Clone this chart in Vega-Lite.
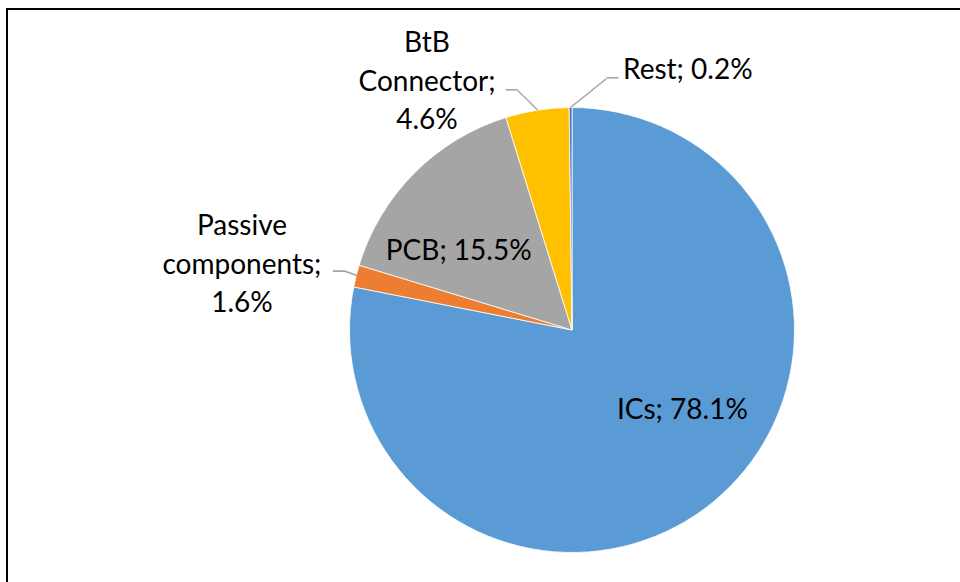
{
  "$schema": "https://vega.github.io/schema/vega-lite/v6.json",
  "width": 1130,
  "height": 642,
  "autosize": {"type": "none"},
  "padding": {"left": 7, "top": 9, "right": 0, "bottom": 0},
  "background": "#ffffff",
  "config": {"view": {"stroke": null}},
  "data": {
    "values": [
      {"category": "ICs", "share": 78.1, "rank": 1, "label": "ICs; 78.1%"},
      {"category": "Passive components", "share": 1.6, "rank": 2, "label": "Passive components; 1.6%"},
      {"category": "PCB", "share": 15.5, "rank": 3, "label": "PCB; 15.5%"},
      {"category": "BtB Connector", "share": 4.6, "rank": 4, "label": "BtB Connector; 4.6%"},
      {"category": "Rest", "share": 0.2, "rank": 5, "label": "Rest; 0.2%"}
    ]
  },
  "layer": [
    {
      "mark": {"type": "rect", "fill": "transparent", "stroke": "#000000", "strokeWidth": 2},
      "encoding": {}
    },
    {
      "encoding": {
        "theta": {"field": "share", "type": "quantitative", "stack": true},
        "order": {"field": "rank", "type": "quantitative"},
        "detail": {"field": "category", "type": "nominal"}
      },
      "layer": [
        {
          "mark": {"type": "arc", "outerRadius": 222.5, "stroke": "#ffffff", "strokeWidth": 0.8},
          "encoding": {
            "color": {
              "field": "category",
              "type": "nominal",
              "scale": {
                "domain": ["ICs", "Passive components", "PCB", "BtB Connector", "Rest"],
                "range": ["#5B9BD5", "#ED7D31", "#A5A5A5", "#FFC000", "#4472C4"]
              },
              "legend": null
            }
          }
        },
        {
          "mark": {"type": "text", "radius": 136, "dx": 24, "dy": -24, "font": "Lato", "fontSize": 28, "color": "#000000", "align": "center", "baseline": "middle"},
          "encoding": {"text": {"condition": {"test": "datum.category === 'ICs'", "field": "label"}, "value": ""}}
        },
        {
          "mark": {"type": "text", "radius": 140, "dx": -14, "dy": 21, "font": "Lato", "fontSize": 28, "color": "#000000", "align": "center", "baseline": "middle"},
          "encoding": {"text": {"condition": {"test": "datum.category === 'PCB'", "field": "label"}, "value": ""}}
        },
        {
          "mark": {"type": "text", "radius": 222.5, "dx": -114.2, "dy": -63, "font": "Lato", "fontSize": 28, "color": "#000000", "align": "center", "baseline": "top", "lineBreak": " ", "lineHeight": 38.5},
          "encoding": {"text": {"condition": {"test": "datum.category === 'Passive components'", "field": "label"}, "value": ""}}
        },
        {
          "mark": {"type": "text", "radius": 222.5, "dx": -110.2, "dy": -80, "font": "Lato", "fontSize": 28, "color": "#000000", "align": "center", "baseline": "top", "lineBreak": " ", "lineHeight": 38.5},
          "encoding": {"text": {"condition": {"test": "datum.category === 'BtB Connector'", "field": "label"}, "value": ""}}
        },
        {
          "mark": {"type": "text", "radius": 222.5, "dx": 52.4, "dy": -36.4, "font": "Lato", "fontSize": 28, "color": "#000000", "align": "left", "baseline": "middle"},
          "encoding": {"text": {"condition": {"test": "datum.category === 'Rest'", "field": "label"}, "value": ""}}
        },
        {
          "mark": {"type": "text", "radius": 222.5, "dx": 23, "dy": 0, "angle": -38.3, "font": "DejaVu Sans Mono", "fontSize": 15.3, "color": "#a6a6a6", "align": "center", "baseline": "middle"},
          "encoding": {"text": {"condition": {"test": "datum.category === 'Rest'", "value": "─────"}, "value": ""}}
        },
        {
          "mark": {"type": "text", "radius": 222.5, "dx": 41.8, "dy": -28.5, "font": "DejaVu Sans Mono", "fontSize": 18.3, "color": "#a6a6a6", "align": "center", "baseline": "middle"},
          "encoding": {"text": {"condition": {"test": "datum.category === 'Rest'", "value": "─"}, "value": ""}}
        },
        {
          "mark": {"type": "text", "radius": 222.5, "dx": -14.2, "dy": 0, "angle": 44.6, "font": "DejaVu Sans Mono", "fontSize": 15.7, "color": "#a6a6a6", "align": "center", "baseline": "middle"},
          "encoding": {"text": {"condition": {"test": "datum.category === 'BtB Connector'", "value": "───"}, "value": ""}}
        },
        {
          "mark": {"type": "text", "radius": 222.5, "dx": -25.8, "dy": -19.9, "font": "DejaVu Sans Mono", "fontSize": 18.8, "color": "#a6a6a6", "align": "center", "baseline": "middle"},
          "encoding": {"text": {"condition": {"test": "datum.category === 'BtB Connector'", "value": "─"}, "value": ""}}
        },
        {
          "mark": {"type": "text", "radius": 222.5, "dx": -5.95, "dy": 0, "angle": 19.65, "font": "DejaVu Sans Mono", "fontSize": 19.8, "color": "#a6a6a6", "align": "center", "baseline": "middle"},
          "encoding": {"text": {"condition": {"test": "datum.category === 'Passive components'", "value": "─"}, "value": ""}}
        },
        {
          "mark": {"type": "text", "radius": 222.5, "dx": -17.2, "dy": -4, "font": "DejaVu Sans Mono", "fontSize": 20, "color": "#a6a6a6", "align": "center", "baseline": "middle"},
          "encoding": {"text": {"condition": {"test": "datum.category === 'Passive components'", "value": "─"}, "value": ""}}
        }
      ]
    }
  ]
}
